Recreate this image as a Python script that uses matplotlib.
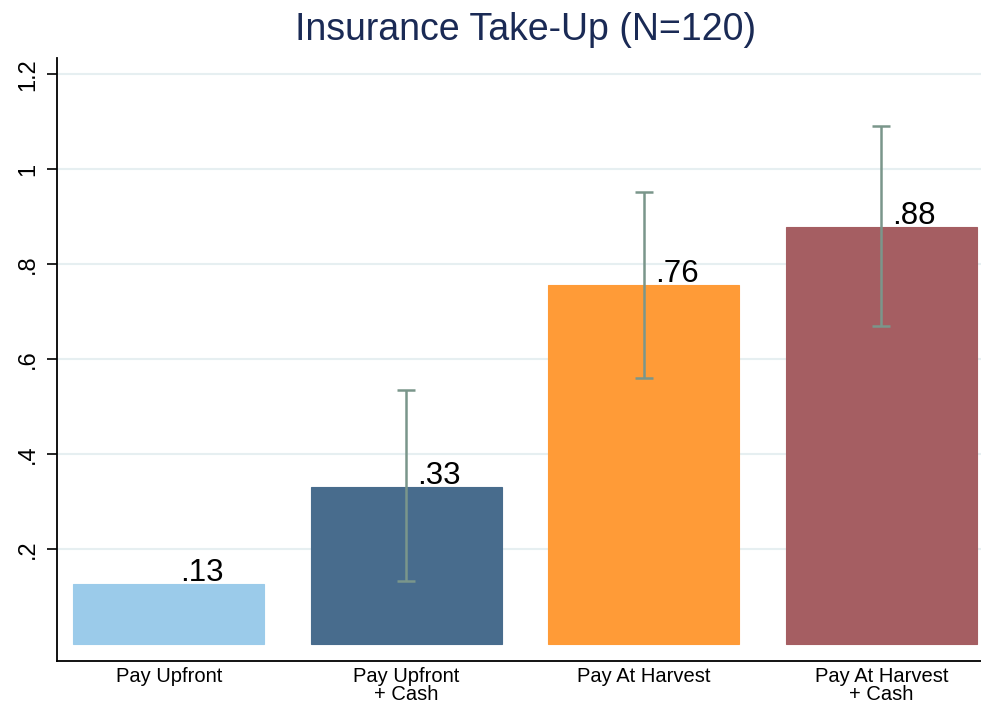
import matplotlib
matplotlib.use("Agg")
import matplotlib.pyplot as plt

plt.rcParams['font.family'] = ['Liberation Sans', 'DejaVu Sans']

# data
groups = ["Pay Upfront", "Pay Upfront\n+ Cash", "Pay At Harvest", "Pay At Harvest\n+ Cash"]
takeup = [0.126, 0.331, 0.756, 0.879]
labels = [".13", ".33", ".76", ".88"]
ci_low = [None, 0.132, 0.561, 0.669]
ci_high = [None, 0.534, 0.952, 1.090]
colors = ["#9bcbea", "#486c8d", "#ff9b37", "#a55e62"]
yticks = [0.2, 0.4, 0.6, 0.8, 1.0, 1.2]
ytick_labels = [".2", ".4", ".6", ".8", "1", "1.2"]

fig = plt.figure(figsize=(9.81, 7.05), dpi=100)
ax = fig.add_axes([0.0581, 0.0624, 0.9419, 0.8553])

x = list(range(len(groups)))
ax.bar(x, takeup, width=0.804, color=colors, edgecolor=colors, linewidth=0.8, zorder=2)

for i in x:
    if ci_low[i] is None:
        continue
    ax.errorbar(i, takeup[i], yerr=[[takeup[i] - ci_low[i]], [ci_high[i] - takeup[i]]],
                fmt='none', ecolor="#7a968b", elinewidth=1.8, capsize=6.5, capthick=1.8, zorder=3)

for i in x:
    ax.annotate(labels[i], (i, takeup[i]), xytext=(8, 2), textcoords='offset points',
                ha='left', va='baseline', fontsize=22.5, color='black', zorder=4)

ax.set_xlim(-0.471, 3.42)
ax.set_ylim(-0.0358, 1.234)
ax.set_yticks(yticks)
ax.set_yticklabels(ytick_labels, rotation=90, va='center', fontsize=17)
ax.set_xticks(x)
ax.set_xticklabels(groups, fontsize=14.5, linespacing=0.98)
ax.tick_params(axis='x', length=0, pad=4)
ax.tick_params(axis='y', length=7, width=1.2, pad=6)
ax.grid(axis='y', color='#e6eff1', linewidth=1.5, zorder=0)
ax.set_axisbelow(True)

for s in ['top', 'right']:
    ax.spines[s].set_visible(False)
for s in ['left', 'bottom']:
    ax.spines[s].set_linewidth(1.3)

fig.text(526 / 981, 1 - 30 / 705, "Insurance Take-Up (N=120)", ha='center', va='center',
         fontsize=27, color='#1a2a55')

fig.savefig("out.png", dpi=100)
